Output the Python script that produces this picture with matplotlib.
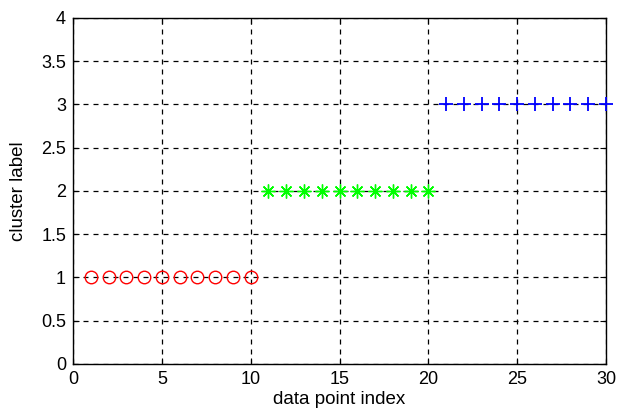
import matplotlib
matplotlib.use("Agg")
import matplotlib.pyplot as plt

plt.rcParams['font.family'] = ['Liberation Sans', 'DejaVu Sans']

# cluster assignments per data point
idx_c1 = [1, 2, 3, 4, 5, 6, 7, 8, 9, 10]
lab_c1 = [1, 1, 1, 1, 1, 1, 1, 1, 1, 1]
idx_c2 = [11, 12, 13, 14, 15, 16, 17, 18, 19, 20]
lab_c2 = [2, 2, 2, 2, 2, 2, 2, 2, 2, 2]
idx_c3 = [21, 22, 23, 24, 25, 26, 27, 28, 29, 30]
lab_c3 = [3, 3, 3, 3, 3, 3, 3, 3, 3, 3]

xticks = [0, 5, 10, 15, 20, 25, 30]
yticks = [0, 0.5, 1, 1.5, 2, 2.5, 3, 3.5, 4]

fig = plt.figure(figsize=(6.17, 4.19), dpi=100)
ax = fig.add_axes([0.1183, 0.1313, 0.8639, 0.8258])

ax.plot(idx_c1, lab_c1, 'o', mfc='none', mec='red', ms=9, mew=1.0, clip_on=False, zorder=3)
ax.plot(idx_c2, lab_c2, marker=(8, 2, 0), ls='none', color='#00ff00', ms=10, mew=1.0, clip_on=False, zorder=3)
ax.plot(idx_c3, lab_c3, '+', color='blue', ms=10, mew=1.3, clip_on=False, zorder=3)

ax.set_xlim(0, 30)
ax.set_ylim(0, 4)
ax.set_xticks(xticks)
ax.set_yticks(yticks)
ax.set_xticklabels([str(t) for t in xticks])
ax.set_yticklabels(['0', '0.5', '1', '1.5', '2', '2.5', '3', '3.5', '4'])
ax.tick_params(direction='in', length=4, labelsize=13, colors='black', pad=5)
ax.tick_params(which='both', top=True, right=True)
ax.grid(True, color='black', linestyle=(0, (4, 4)), linewidth=0.9)
for sp in ax.spines.values():
    sp.set_linewidth(1.0)

ax.set_xlabel('data point index', fontsize=13.5, labelpad=2)
ax.set_ylabel('cluster label', fontsize=13.5, labelpad=10)

fig.savefig('out.png', dpi=100)
